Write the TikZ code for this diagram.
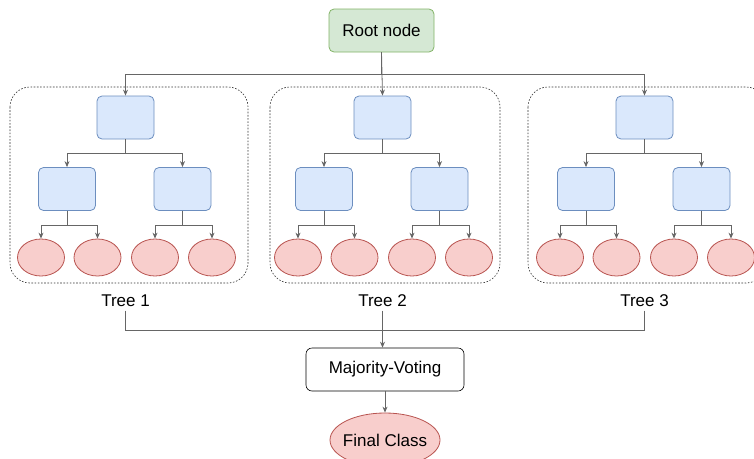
\documentclass[tikz,border=0pt]{standalone}
\usepackage{fontspec}
\setmainfont{Liberation Sans}
\usetikzlibrary{arrows.meta,shapes.geometric}
\definecolor{gfill}{HTML}{D5E8D4}\definecolor{gline}{HTML}{82B366}
\definecolor{bfill}{HTML}{DAE8FC}\definecolor{bline}{HTML}{6C8EBF}
\definecolor{rfill}{HTML}{F8CECC}\definecolor{rline}{HTML}{B85450}
\definecolor{conn}{HTML}{666666}
\tikzset{
  lbl/.style={font=\fontsize{17}{20}\selectfont},
  rootbox/.style={draw=gline,fill=gfill,rounded corners=5pt,minimum width=105pt,minimum height=43pt,lbl,line width=0.8pt},
  innerbox/.style={draw=bline,fill=bfill,rounded corners=5pt,minimum width=57pt,minimum height=43pt,line width=0.8pt},
  leaf/.style={ellipse,draw=rline,fill=rfill,minimum width=47pt,minimum height=37pt,inner sep=0pt,line width=0.8pt},
  votebox/.style={draw=black,fill=white,rounded corners=6pt,minimum width=158pt,minimum height=43pt,lbl,line width=0.6pt},
  finalnode/.style={ellipse,draw=rline,fill=rfill,minimum width=110pt,minimum height=54pt,inner sep=0pt,line width=0.8pt},
  container/.style={draw=black!80,dash pattern=on 1.6pt off 1.6pt,rounded corners=20pt,line width=0.6pt},
  arr/.style={draw=conn,line width=0.8pt,-{Stealth[length=6pt,width=5pt]}},
  ln/.style={draw=conn,line width=0.8pt},
}
\begin{document}
\begin{tikzpicture}[x=1pt,y=-1pt]
\useasboundingbox (0,0) rectangle (754,458);
\node[rootbox] (root) at (381.5,30.5) {Root node};
\foreach \i/\cx/\bl/\br in {1/125.5/10/248,2/382.5/270/500,3/644.5/528/766}{
  \draw[container] (\bl,87) rectangle (\br,283);
  \node[innerbox] (t\i top) at (\cx,117.5) {};
  \node[innerbox] (t\i ml) at (\cx-58.5,189) {};
  \node[innerbox] (t\i mr) at (\cx+57,189) {};
  \node[leaf] (t\i l1) at (\cx-84.5,257.5) {};
  \node[leaf] (t\i l2) at (\cx-28,257.5) {};
  \node[leaf] (t\i l3) at (\cx+29.5,257.5) {};
  \node[leaf] (t\i l4) at (\cx+86.5,257.5) {};
  \draw[arr] (t\i top.south) -- ++(0,14) -| (t\i ml.north);
  \draw[arr] (t\i top.south) -- ++(0,14) -| (t\i mr.north);
  \draw[arr] (t\i ml.south) -- ++(0,14) -| (t\i l1.north);
  \draw[arr] (t\i ml.south) -- ++(0,14) -| (t\i l2.north);
  \draw[arr] (t\i mr.south) -- ++(0,14) -| (t\i l3.north);
  \draw[arr] (t\i mr.south) -- ++(0,14) -| (t\i l4.north);
  \node[lbl,anchor=south,inner sep=0pt] (lab\i) at (\cx,306.5) {Tree \i};
}
\coordinate (hb) at (381.5,74);
\draw[arr] (root.south) -- (t2top.north);
\draw[arr] (root.south) |- (t1top.north |- hb) -- (t1top.north);
\draw[arr] (root.south) |- (t3top.north |- hb) -- (t3top.north);
\node[votebox] (vote) at (385,369.5) {Majority-Voting};
\node[finalnode] (final) at (385,440) {};
\node[lbl,inner sep=0pt] (finaltext) at (final.center) {Final Class};
\coordinate (jb) at (385,330);
\draw[ln] (lab1.south) ++(0,4) |- (jb);
\draw[ln] (lab3.south) ++(0,4) |- (jb);
\draw[arr] (lab2.south) ++(0,4) -- (lab2.south |- vote.north);
\draw[arr] (vote.south) -- (final.north);
\end{tikzpicture}
\end{document}
